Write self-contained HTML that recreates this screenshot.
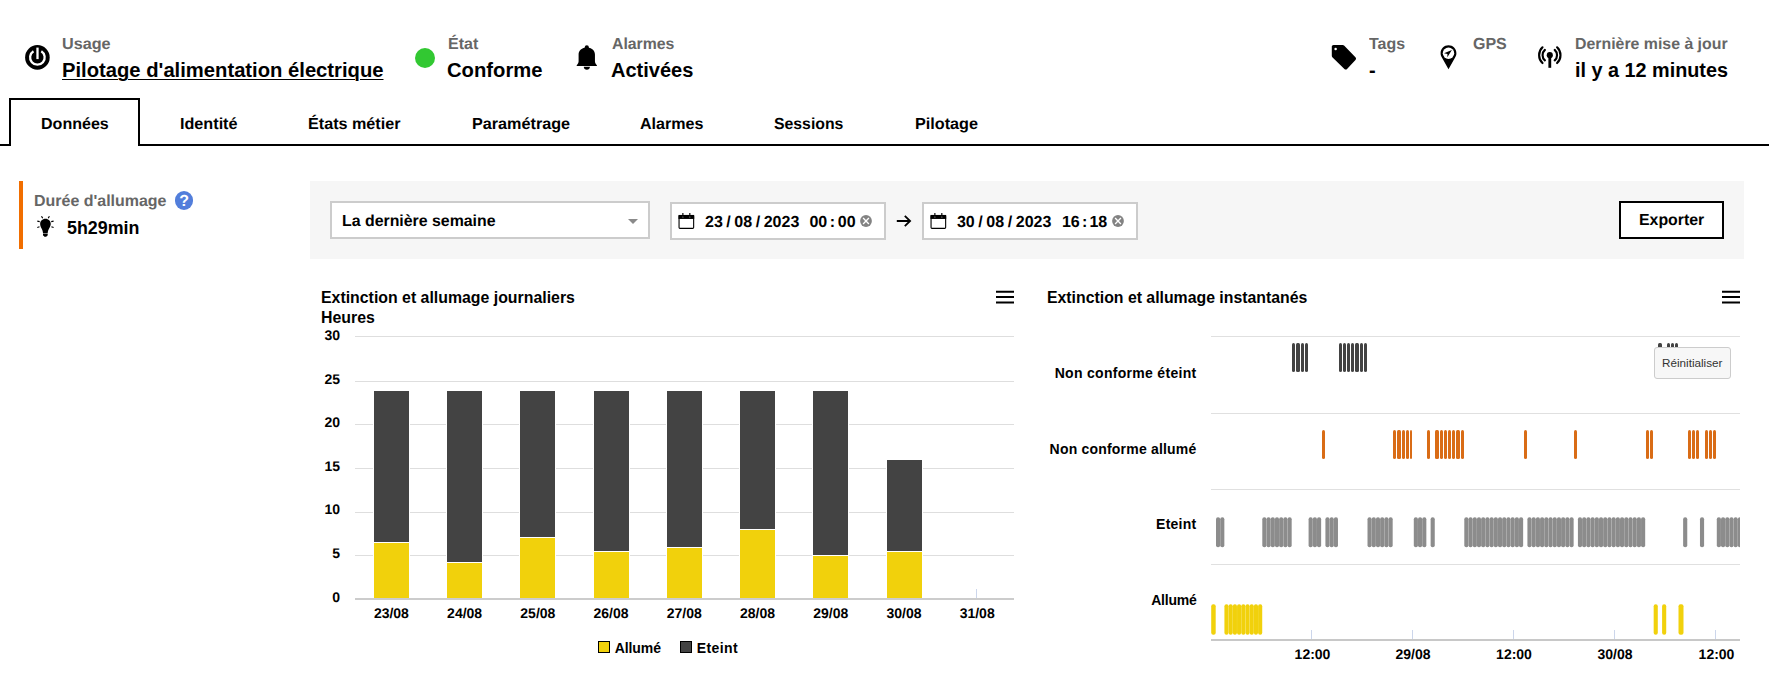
<!DOCTYPE html>
<html lang="fr"><head><meta charset="utf-8"><title>Pilotage d'alimentation électrique</title>
<style>
html,body{margin:0;padding:0;background:#fff}
body{width:1769px;height:688px;position:relative;overflow:hidden;font-family:"Liberation Sans",Arial,Helvetica,sans-serif;font-weight:700;color:#000}
.t{position:absolute;white-space:nowrap;font-weight:700}
</style></head><body>
<!-- header -->
<svg style="position:absolute;left:24px;top:44px" width="27" height="27" viewBox="0 0 27 27"><circle cx="13.400" cy="13.400" r="12.300" fill="#000"/><path d="M9.500 7.200A7.300 7.300 0 1 0 17.300 7.200" fill="none" stroke="#fff" stroke-width="2.300"/><line x1="13.500" y1="3.600" x2="13.500" y2="15.100" stroke="#fff" stroke-width="2.300"/></svg>
<div class="t" style="left:62.00px;top:36px;font-size:16px;line-height:17px;color:#666;text-rendering:geometricPrecision;transform:scaleX(1.0120);transform-origin:0 0;">Usage</div>
<div class="t" style="left:61.70px;top:59px;font-size:20px;line-height:22px;transform:scaleX(1.0105);transform-origin:0 0;text-decoration:underline;text-decoration-thickness:1.400px;text-underline-offset:2.400px;">Pilotage d'alimentation électrique</div>
<div style="position:absolute;left:414.900px;top:47.800px;width:20.200px;height:20.200px;border-radius:50%;background:#32c832"></div>
<div class="t" style="left:448.00px;top:36px;font-size:16px;line-height:17px;color:#666;text-rendering:geometricPrecision;">État</div>
<div class="t" style="left:447.20px;top:59px;font-size:20px;line-height:22px;transform:scaleX(1.0112);transform-origin:0 0;">Conforme</div>
<svg style="position:absolute;left:567px;top:38px" width="40" height="38" viewBox="0 0 40 38"><circle cx="19.800" cy="9.300" r="2.050" fill="#000"/><path d="M9.700 27.900V27.200C11 25.600 11.600 24.800 11.600 23.200V16.600C11.600 12.400 14.900 9.500 19.800 9.500S27.950 12.400 27.950 16.600V23.200C27.950 24.800 28.600 25.600 29.900 27.200V27.900Z" fill="#000"/><path d="M16.800 28.800H22.900C22.900 30.500 21.600 31.800 19.850 31.800S16.800 30.500 16.800 28.800Z" fill="#000"/></svg>
<div class="t" style="left:612.00px;top:36px;font-size:16px;line-height:17px;color:#666;text-rendering:geometricPrecision;transform:scaleX(0.9881);transform-origin:0 0;">Alarmes</div>
<div class="t" style="left:611.20px;top:59px;font-size:20px;line-height:22px;transform:scaleX(1.0015);transform-origin:0 0;">Activées</div>
<svg style="position:absolute;left:1330px;top:43px" width="28" height="28" viewBox="0 0 28 28"><path d="M1.800 3.600c0-.95.750-1.700 1.700-1.700h9.200c.5 0 1 .2 1.350.55l11.400 11.900c.75.750.75 1.900 0 2.650l-8.400 8.900c-.75.750-1.900.75-2.650 0L2.350 14.150c-.35-.35-.55-.85-.55-1.350z" fill="#000"/><circle cx="5.600" cy="6" r="1.250" fill="#fff"/></svg>
<div class="t" style="left:1369.00px;top:36px;font-size:16px;line-height:17px;color:#666;text-rendering:geometricPrecision;transform:scaleX(0.9957);transform-origin:0 0;">Tags</div>
<div class="t" style="left:1369.00px;top:59px;font-size:20px;line-height:22px;">-</div>
<svg style="position:absolute;left:1438px;top:43px" width="21" height="28" viewBox="0 0 21 28"><path d="M10.500 2.300c-4.400 0-7.900 3.500-7.900 7.900 0 1.700.5 3 1.300 4.400l6.600 11.700 6.600-11.700c.8-1.400 1.300-2.700 1.300-4.400 0-4.400-3.500-7.900-7.900-7.900z" fill="#000"/><circle cx="10.500" cy="10.200" r="5.700" fill="#fff"/><path d="M13.900 7L9.300 14.200 9.450 10.900 6 10.200Z" fill="#000"/></svg>
<div class="t" style="left:1473.00px;top:36px;font-size:16px;line-height:17px;color:#666;text-rendering:geometricPrecision;">GPS</div>
<svg style="position:absolute;left:1536px;top:44px" width="28" height="26" viewBox="0 0 28 26"><g fill="none" stroke="#000" stroke-width="2.150" stroke-linecap="round"><path d="M8.900 5.900A7.100 7.100 0 0 0 8.900 16.400"/><path d="M18.700 5.900A7.100 7.100 0 0 1 18.700 16.400"/><path d="M6.500 3.300A10.800 10.800 0 0 0 6.500 19"/><path d="M21.100 3.300A10.800 10.800 0 0 1 21.100 19"/></g><circle cx="13.800" cy="11.150" r="3.050" fill="#000"/><rect x="12.400" y="12" width="2.800" height="11.800" fill="#000"/></svg>
<div class="t" style="left:1575.30px;top:36px;font-size:16px;line-height:17px;color:#666;text-rendering:geometricPrecision;transform:scaleX(0.9919);transform-origin:0 0;">Dernière mise à jour</div>
<div class="t" style="left:1575.00px;top:59px;font-size:20px;line-height:22px;transform:scaleX(0.9902);transform-origin:0 0;">il y a 12 minutes</div>
<div style="position:absolute;left:0;top:143.700px;width:1769px;height:2px;background:#000"></div>
<div style="position:absolute;left:9px;top:98px;width:127px;height:45.700px;border:2px solid #000;border-bottom:0;background:#fff"></div>
<div class="t" style="left:41.00px;top:116px;font-size:16px;line-height:17px;text-rendering:geometricPrecision;transform:scaleX(1.0034);transform-origin:0 0;">Données</div>
<div class="t" style="left:179.60px;top:116px;font-size:16px;line-height:17px;text-rendering:geometricPrecision;transform:scaleX(1.0107);transform-origin:0 0;">Identité</div>
<div class="t" style="left:308.20px;top:116px;font-size:16px;line-height:17px;text-rendering:geometricPrecision;transform:scaleX(1.0099);transform-origin:0 0;">États métier</div>
<div class="t" style="left:471.60px;top:116px;font-size:16px;line-height:17px;text-rendering:geometricPrecision;transform:scaleX(1.0119);transform-origin:0 0;">Paramétrage</div>
<div class="t" style="left:640.20px;top:116px;font-size:16px;line-height:17px;text-rendering:geometricPrecision;transform:scaleX(1.0040);transform-origin:0 0;">Alarmes</div>
<div class="t" style="left:774.20px;top:116px;font-size:16px;line-height:17px;text-rendering:geometricPrecision;transform:scaleX(0.9878);transform-origin:0 0;">Sessions</div>
<div class="t" style="left:915.00px;top:116px;font-size:16px;line-height:17px;text-rendering:geometricPrecision;transform:scaleX(1.0123);transform-origin:0 0;">Pilotage</div>
<div style="position:absolute;left:19px;top:181px;width:4px;height:68px;background:#f16e00"></div>
<div class="t" style="left:33.60px;top:193px;font-size:16px;line-height:17px;color:#666;text-rendering:geometricPrecision;transform:scaleX(0.9982);transform-origin:0 0;">Durée d'allumage</div>
<div style="position:absolute;left:174.900px;top:191.400px;width:18.200px;height:18.200px;border-radius:50%;background:#527edb"></div>
<div class="t" style="left:179.31px;top:193px;font-size:16px;line-height:17px;color:#fff;text-rendering:geometricPrecision;">?</div>
<svg style="position:absolute;left:35px;top:214px" width="21" height="24" viewBox="0 0 21 24"><path d="M10.450 4.700C13.500 4.700 15.750 7 15.750 9.800C15.750 11.600 15.050 12.800 14.250 14.200C13.550 15.500 12.900 16.600 12.700 18.950H8C7.750 16.600 7.150 15.500 6.450 14.200C5.650 12.800 5.150 11.600 5.150 9.800C5.150 7 7.400 4.700 10.450 4.700Z" fill="#000"/><path d="M8 19.500H12.700V21C12.700 21.600 12.300 21.900 11.800 21.950L11.300 22.750H9.400L8.900 21.950C8.400 21.900 8 21.600 8 21Z" fill="#000"/><g stroke="#000" stroke-width="1.150"><path d="M6.500 2.200L7.700 4.300M14.400 2.200L13.200 4.300M2.300 7.100L4.700 7.600M18.600 7.100L16.200 7.600M2.300 13.500L4.500 12.750M18.600 13.500L16.400 12.750"/></g></svg>
<div class="t" style="left:67.30px;top:218px;font-size:18px;line-height:20px;transform:scaleX(0.9914);transform-origin:0 0;">5h29min</div>
<div style="position:absolute;left:310px;top:181px;width:1434px;height:77.800px;background:#f6f6f6"></div>
<div style="position:absolute;left:330px;top:201.3px;width:316px;height:33.39999999999998px;border:2px solid #ccc;background:#fff;"></div>
<div class="t" style="left:342.00px;top:213px;font-size:16px;line-height:17px;text-rendering:geometricPrecision;transform:scaleX(0.9920);transform-origin:0 0;">La dernière semaine</div>
<div style="position:absolute;left:627.800px;top:219px;width:0;height:0;border-left:5.300px solid transparent;border-right:5.300px solid transparent;border-top:5.500px solid #8a8a8a"></div>
<div style="position:absolute;left:670px;top:202.2px;width:212px;height:33.80000000000001px;border:2px solid #ccc;background:#fff;"></div>
<svg style="position:absolute;left:678.2px;top:212px" width="17" height="18" viewBox="0 0 17 18"><rect x="1.050" y="3.500" width="14.600" height="12.850" rx="0.900" fill="none" stroke="#000" stroke-width="1.100"/><rect x="0.500" y="2.950" width="15.700" height="4" fill="#000"/><rect x="4.300" y="1" width="1.150" height="3" fill="#000"/><rect x="11.250" y="1" width="1.150" height="3" fill="#000"/><circle cx="4.900" cy="5" r="0.600" fill="#aaa"/><circle cx="11.850" cy="5" r="0.600" fill="#aaa"/></svg>
<div class="t" style="left:705.00px;top:214px;font-size:16px;line-height:17px;word-spacing:-0.890px;text-rendering:geometricPrecision;white-space:pre;">23 / 08 / 2023</div>
<div class="t" style="left:809.40px;top:214px;font-size:16px;line-height:17px;word-spacing:-1.806px;text-rendering:geometricPrecision;white-space:pre;">00 : 00</div>
<svg style="position:absolute;left:860.1px;top:214.900px" width="12" height="12" viewBox="0 0 12 12"><circle cx="6" cy="6" r="5.900" fill="#838383"/><path d="M3.100 3.100l5.800 5.800M8.900 3.100l-5.800 5.800" stroke="#fff" stroke-width="1.350"/></svg>
<div style="position:absolute;left:922px;top:202.2px;width:212px;height:33.80000000000001px;border:2px solid #ccc;background:#fff;"></div>
<svg style="position:absolute;left:930.2px;top:212px" width="17" height="18" viewBox="0 0 17 18"><rect x="1.050" y="3.500" width="14.600" height="12.850" rx="0.900" fill="none" stroke="#000" stroke-width="1.100"/><rect x="0.500" y="2.950" width="15.700" height="4" fill="#000"/><rect x="4.300" y="1" width="1.150" height="3" fill="#000"/><rect x="11.250" y="1" width="1.150" height="3" fill="#000"/><circle cx="4.900" cy="5" r="0.600" fill="#aaa"/><circle cx="11.850" cy="5" r="0.600" fill="#aaa"/></svg>
<div class="t" style="left:956.90px;top:214px;font-size:16px;line-height:17px;word-spacing:-0.840px;text-rendering:geometricPrecision;white-space:pre;">30 / 08 / 2023</div>
<div class="t" style="left:1061.90px;top:214px;font-size:16px;line-height:17px;word-spacing:-2.256px;text-rendering:geometricPrecision;white-space:pre;">16 : 18</div>
<svg style="position:absolute;left:1112.1px;top:214.900px" width="12" height="12" viewBox="0 0 12 12"><circle cx="6" cy="6" r="5.900" fill="#838383"/><path d="M3.100 3.100l5.800 5.800M8.900 3.100l-5.800 5.800" stroke="#fff" stroke-width="1.350"/></svg>
<svg style="position:absolute;left:896px;top:213px" width="16" height="16" viewBox="0 0 16 16"><path d="M.8 8h13M8.800 2.800l5.300 5.200-5.300 5.200" fill="none" stroke="#000" stroke-width="1.800"/></svg>
<div style="position:absolute;left:1619px;top:200.6px;width:101px;height:34.400000000000006px;border:2px solid #000;background:#fff;"></div>
<div class="t" style="left:1639.30px;top:212px;font-size:16px;line-height:17px;text-rendering:geometricPrecision;transform:scaleX(0.9909);transform-origin:0 0;">Exporter</div>
<div class="t" style="left:320.80px;top:289px;font-size:16px;line-height:17px;transform:scaleX(0.9915);transform-origin:0 0;">Extinction et allumage journaliers</div>
<div class="t" style="left:320.90px;top:309px;font-size:16px;line-height:17px;transform:scaleX(0.9915);transform-origin:0 0;">Heures</div>
<svg style="position:absolute;left:996px;top:290px" width="20" height="14" viewBox="0 0 20 14"><path d="M0 1.800h18M0 7.100h18M0 12.400h18" stroke="#000" stroke-width="2"/></svg>
<svg style="position:absolute;left:0;top:0" width="1769" height="688" viewBox="0 0 1769 688" shape-rendering="crispEdges">
<rect x="355" y="336" width="659" height="1" fill="#dedede"/>
<rect x="355" y="381" width="659" height="1" fill="#dedede"/>
<rect x="355" y="424" width="659" height="1" fill="#dedede"/>
<rect x="355" y="468" width="659" height="1" fill="#dedede"/>
<rect x="355" y="512" width="659" height="1" fill="#dedede"/>
<rect x="355" y="555" width="659" height="1" fill="#dedede"/>
<rect x="355" y="598" width="659" height="2" fill="#ccc"/>
<rect x="976" y="589" width="1" height="9" fill="#ccd6eb"/>
<rect x="373" y="390" width="37" height="208" fill="#fff"/>
<rect x="374" y="391" width="35" height="151" fill="#434343"/>
<rect x="374" y="543" width="35" height="55" fill="#f1d10c"/>
<rect x="446" y="390" width="37" height="208" fill="#fff"/>
<rect x="447" y="391" width="35" height="171" fill="#434343"/>
<rect x="447" y="563" width="35" height="35" fill="#f1d10c"/>
<rect x="519" y="390" width="37" height="208" fill="#fff"/>
<rect x="520" y="391" width="35" height="146" fill="#434343"/>
<rect x="520" y="538" width="35" height="60" fill="#f1d10c"/>
<rect x="593" y="390" width="37" height="208" fill="#fff"/>
<rect x="594" y="391" width="35" height="160" fill="#434343"/>
<rect x="594" y="552" width="35" height="46" fill="#f1d10c"/>
<rect x="666" y="390" width="37" height="208" fill="#fff"/>
<rect x="667" y="391" width="35" height="156" fill="#434343"/>
<rect x="667" y="548" width="35" height="50" fill="#f1d10c"/>
<rect x="739" y="390" width="37" height="208" fill="#fff"/>
<rect x="740" y="391" width="35" height="138" fill="#434343"/>
<rect x="740" y="530" width="35" height="68" fill="#f1d10c"/>
<rect x="812" y="390" width="37" height="208" fill="#fff"/>
<rect x="813" y="391" width="35" height="164" fill="#434343"/>
<rect x="813" y="556" width="35" height="42" fill="#f1d10c"/>
<rect x="886" y="459" width="37" height="139" fill="#fff"/>
<rect x="887" y="460" width="35" height="91" fill="#434343"/>
<rect x="887" y="552" width="35" height="46" fill="#f1d10c"/>
</svg>
<div class="t" style="left:324.43px;top:327px;font-size:14px;line-height:16px;text-rendering:geometricPrecision;">30</div>
<div class="t" style="left:324.43px;top:371px;font-size:14px;line-height:16px;text-rendering:geometricPrecision;">25</div>
<div class="t" style="left:324.43px;top:414px;font-size:14px;line-height:16px;text-rendering:geometricPrecision;">20</div>
<div class="t" style="left:324.43px;top:458px;font-size:14px;line-height:16px;text-rendering:geometricPrecision;">15</div>
<div class="t" style="left:324.43px;top:501px;font-size:14px;line-height:16px;text-rendering:geometricPrecision;">10</div>
<div class="t" style="left:332.21px;top:545px;font-size:14px;line-height:16px;text-rendering:geometricPrecision;">5</div>
<div class="t" style="left:332.21px;top:589px;font-size:14px;line-height:16px;text-rendering:geometricPrecision;">0</div>
<div class="t" style="left:373.89px;top:605px;font-size:14px;line-height:16px;text-rendering:geometricPrecision;">23/08</div>
<div class="t" style="left:447.12px;top:605px;font-size:14px;line-height:16px;text-rendering:geometricPrecision;">24/08</div>
<div class="t" style="left:520.34px;top:605px;font-size:14px;line-height:16px;text-rendering:geometricPrecision;">25/08</div>
<div class="t" style="left:593.56px;top:605px;font-size:14px;line-height:16px;text-rendering:geometricPrecision;">26/08</div>
<div class="t" style="left:666.78px;top:605px;font-size:14px;line-height:16px;text-rendering:geometricPrecision;">27/08</div>
<div class="t" style="left:740.01px;top:605px;font-size:14px;line-height:16px;text-rendering:geometricPrecision;">28/08</div>
<div class="t" style="left:813.23px;top:605px;font-size:14px;line-height:16px;text-rendering:geometricPrecision;">29/08</div>
<div class="t" style="left:886.45px;top:605px;font-size:14px;line-height:16px;text-rendering:geometricPrecision;">30/08</div>
<div class="t" style="left:959.67px;top:605px;font-size:14px;line-height:16px;text-rendering:geometricPrecision;">31/08</div>
<div style="position:absolute;left:598px;top:641px;width:10px;height:10px;background:#f1d10c;border:1px solid #000"></div>
<div class="t" style="left:614.70px;top:640px;font-size:14px;line-height:16px;letter-spacing:-0.075px;">Allumé</div>
<div style="position:absolute;left:680px;top:641px;width:10px;height:10px;background:#434343;border:1px solid #000"></div>
<div class="t" style="left:696.70px;top:640px;font-size:14px;line-height:16px;letter-spacing:0.422px;">Eteint</div>
<div class="t" style="left:1046.50px;top:289px;font-size:16px;line-height:17px;transform:scaleX(0.9890);transform-origin:0 0;">Extinction et allumage instantanés</div>
<svg style="position:absolute;left:1722px;top:290px" width="20" height="14" viewBox="0 0 20 14"><path d="M0 1.800h18M0 7.100h18M0 12.400h18" stroke="#000" stroke-width="2"/></svg>
<svg style="position:absolute;left:0;top:0" width="1769" height="688" viewBox="0 0 1769 688">
<defs><clipPath id="cp"><rect x="1211" y="330" width="529" height="312"/></clipPath></defs>
<rect x="1211" y="336" width="529" height="1" fill="#e0e0e0" shape-rendering="crispEdges"/>
<rect x="1211" y="413" width="529" height="1" fill="#e0e0e0" shape-rendering="crispEdges"/>
<rect x="1211" y="489" width="529" height="1" fill="#e0e0e0" shape-rendering="crispEdges"/>
<rect x="1211" y="564" width="529" height="1" fill="#e0e0e0" shape-rendering="crispEdges"/>
<rect x="1211" y="639" width="529" height="2" fill="#c8c8c8" shape-rendering="crispEdges"/>
<rect x="1311" y="630" width="1" height="9" fill="#ccd6eb" shape-rendering="crispEdges"/>
<rect x="1412" y="630" width="1" height="9" fill="#ccd6eb" shape-rendering="crispEdges"/>
<rect x="1513" y="630" width="1" height="9" fill="#ccd6eb" shape-rendering="crispEdges"/>
<rect x="1614" y="630" width="1" height="9" fill="#ccd6eb" shape-rendering="crispEdges"/>
<rect x="1715" y="630" width="1" height="9" fill="#ccd6eb" shape-rendering="crispEdges"/>
<g clip-path="url(#cp)" shape-rendering="geometricPrecision">
<g fill="#434343">
<rect x="1292" y="343" width="3" height="29" rx="1.500"/>
<rect x="1296" y="343" width="4" height="29" rx="1.500"/>
<rect x="1301" y="343" width="3" height="29" rx="1.500"/>
<rect x="1305" y="343" width="3" height="29" rx="1.500"/>
<rect x="1339" y="343" width="3" height="29" rx="1.500"/>
<rect x="1343" y="343" width="3" height="29" rx="1.500"/>
<rect x="1347" y="343" width="3" height="29" rx="1.500"/>
<rect x="1351" y="343" width="3" height="29" rx="1.500"/>
<rect x="1355" y="343" width="4" height="29" rx="1.500"/>
<rect x="1360" y="343" width="3" height="29" rx="1.500"/>
<rect x="1364" y="343" width="3" height="29" rx="1.500"/>
<rect x="1658" y="343" width="4" height="29" rx="1.500"/>
<rect x="1667" y="343" width="3" height="29" rx="1.500"/>
<rect x="1671" y="343" width="3" height="29" rx="1.500"/>
<rect x="1675" y="343" width="3" height="29" rx="1.500"/>
</g>
<g fill="#d96c16">
<rect x="1322" y="430" width="3" height="29" rx="1.500"/>
<rect x="1393" y="430" width="3" height="29" rx="1.500"/>
<rect x="1397" y="430" width="4" height="29" rx="1.500"/>
<rect x="1402" y="430" width="3" height="29" rx="1.500"/>
<rect x="1406" y="430" width="3" height="29" rx="1.500"/>
<rect x="1410" y="430" width="2" height="29" rx="1.500"/>
<rect x="1427" y="430" width="3" height="29" rx="1.500"/>
<rect x="1435" y="430" width="4" height="29" rx="1.500"/>
<rect x="1440" y="430" width="3" height="29" rx="1.500"/>
<rect x="1444" y="430" width="3" height="29" rx="1.500"/>
<rect x="1448" y="430" width="3" height="29" rx="1.500"/>
<rect x="1452" y="430" width="3" height="29" rx="1.500"/>
<rect x="1456" y="430" width="4" height="29" rx="1.500"/>
<rect x="1461" y="430" width="3" height="29" rx="1.500"/>
<rect x="1524" y="430" width="3" height="29" rx="1.500"/>
<rect x="1574" y="430" width="3" height="29" rx="1.500"/>
<rect x="1646" y="430" width="3" height="29" rx="1.500"/>
<rect x="1650" y="430" width="3" height="29" rx="1.500"/>
<rect x="1688" y="430" width="3" height="29" rx="1.500"/>
<rect x="1692" y="430" width="3" height="29" rx="1.500"/>
<rect x="1696" y="430" width="3" height="29" rx="1.500"/>
<rect x="1705" y="430" width="3" height="29" rx="1.500"/>
<rect x="1709" y="430" width="3" height="29" rx="1.500"/>
<rect x="1713" y="430" width="3" height="29" rx="1.500"/>
</g>
<g fill="#8c8c8c">
<rect x="1216.01" y="517.3" width="4.13" height="30.00" rx="2"/>
<rect x="1220.22" y="517.3" width="4.13" height="30.00" rx="2"/>
<rect x="1262.30" y="517.3" width="4.13" height="30.00" rx="2"/>
<rect x="1266.51" y="517.3" width="4.13" height="30.00" rx="2"/>
<rect x="1270.72" y="517.3" width="4.13" height="30.00" rx="2"/>
<rect x="1274.92" y="517.3" width="4.13" height="30.00" rx="2"/>
<rect x="1279.13" y="517.3" width="4.13" height="30.00" rx="2"/>
<rect x="1283.34" y="517.3" width="4.13" height="30.00" rx="2"/>
<rect x="1287.55" y="517.3" width="4.13" height="30.00" rx="2"/>
<rect x="1308.59" y="517.3" width="4.13" height="30.00" rx="2"/>
<rect x="1312.80" y="517.3" width="4.13" height="30.00" rx="2"/>
<rect x="1317.01" y="517.3" width="4.13" height="30.00" rx="2"/>
<rect x="1325.42" y="517.3" width="4.13" height="30.00" rx="2"/>
<rect x="1329.63" y="517.3" width="4.13" height="30.00" rx="2"/>
<rect x="1333.84" y="517.3" width="4.13" height="30.00" rx="2"/>
<rect x="1367.51" y="517.3" width="4.13" height="30.00" rx="2"/>
<rect x="1371.72" y="517.3" width="4.13" height="30.00" rx="2"/>
<rect x="1375.92" y="517.3" width="4.13" height="30.00" rx="2"/>
<rect x="1380.13" y="517.3" width="4.13" height="30.00" rx="2"/>
<rect x="1384.34" y="517.3" width="4.13" height="30.00" rx="2"/>
<rect x="1388.55" y="517.3" width="4.13" height="30.00" rx="2"/>
<rect x="1413.80" y="517.3" width="4.13" height="30.00" rx="2"/>
<rect x="1418.01" y="517.3" width="4.13" height="30.00" rx="2"/>
<rect x="1422.22" y="517.3" width="4.13" height="30.00" rx="2"/>
<rect x="1430.63" y="517.3" width="4.13" height="30.00" rx="2"/>
<rect x="1464.30" y="517.3" width="4.13" height="30.00" rx="2"/>
<rect x="1468.51" y="517.3" width="4.13" height="30.00" rx="2"/>
<rect x="1472.72" y="517.3" width="4.13" height="30.00" rx="2"/>
<rect x="1476.92" y="517.3" width="4.13" height="30.00" rx="2"/>
<rect x="1481.13" y="517.3" width="4.13" height="30.00" rx="2"/>
<rect x="1485.34" y="517.3" width="4.13" height="30.00" rx="2"/>
<rect x="1489.55" y="517.3" width="4.13" height="30.00" rx="2"/>
<rect x="1493.76" y="517.3" width="4.13" height="30.00" rx="2"/>
<rect x="1497.97" y="517.3" width="4.13" height="30.00" rx="2"/>
<rect x="1502.17" y="517.3" width="4.13" height="30.00" rx="2"/>
<rect x="1506.38" y="517.3" width="4.13" height="30.00" rx="2"/>
<rect x="1510.59" y="517.3" width="4.13" height="30.00" rx="2"/>
<rect x="1514.80" y="517.3" width="4.13" height="30.00" rx="2"/>
<rect x="1519.01" y="517.3" width="4.13" height="30.00" rx="2"/>
<rect x="1527.42" y="517.3" width="4.13" height="30.00" rx="2"/>
<rect x="1531.63" y="517.3" width="4.13" height="30.00" rx="2"/>
<rect x="1535.84" y="517.3" width="4.13" height="30.00" rx="2"/>
<rect x="1540.05" y="517.3" width="4.13" height="30.00" rx="2"/>
<rect x="1544.26" y="517.3" width="4.13" height="30.00" rx="2"/>
<rect x="1548.47" y="517.3" width="4.13" height="30.00" rx="2"/>
<rect x="1552.67" y="517.3" width="4.13" height="30.00" rx="2"/>
<rect x="1556.88" y="517.3" width="4.13" height="30.00" rx="2"/>
<rect x="1561.09" y="517.3" width="4.13" height="30.00" rx="2"/>
<rect x="1565.30" y="517.3" width="4.13" height="30.00" rx="2"/>
<rect x="1569.51" y="517.3" width="4.13" height="30.00" rx="2"/>
<rect x="1577.92" y="517.3" width="4.13" height="30.00" rx="2"/>
<rect x="1582.13" y="517.3" width="4.13" height="30.00" rx="2"/>
<rect x="1586.34" y="517.3" width="4.13" height="30.00" rx="2"/>
<rect x="1590.55" y="517.3" width="4.13" height="30.00" rx="2"/>
<rect x="1594.76" y="517.3" width="4.13" height="30.00" rx="2"/>
<rect x="1598.97" y="517.3" width="4.13" height="30.00" rx="2"/>
<rect x="1603.17" y="517.3" width="4.13" height="30.00" rx="2"/>
<rect x="1607.38" y="517.3" width="4.13" height="30.00" rx="2"/>
<rect x="1611.59" y="517.3" width="4.13" height="30.00" rx="2"/>
<rect x="1615.80" y="517.3" width="4.13" height="30.00" rx="2"/>
<rect x="1620.01" y="517.3" width="4.13" height="30.00" rx="2"/>
<rect x="1624.22" y="517.3" width="4.13" height="30.00" rx="2"/>
<rect x="1628.42" y="517.3" width="4.13" height="30.00" rx="2"/>
<rect x="1632.63" y="517.3" width="4.13" height="30.00" rx="2"/>
<rect x="1636.84" y="517.3" width="4.13" height="30.00" rx="2"/>
<rect x="1641.05" y="517.3" width="4.13" height="30.00" rx="2"/>
<rect x="1683.13" y="517.3" width="4.13" height="30.00" rx="2"/>
<rect x="1699.97" y="517.3" width="4.13" height="30.00" rx="2"/>
<rect x="1716.80" y="517.3" width="4.13" height="30.00" rx="2"/>
<rect x="1721.01" y="517.3" width="4.13" height="30.00" rx="2"/>
<rect x="1725.22" y="517.3" width="4.13" height="30.00" rx="2"/>
<rect x="1729.42" y="517.3" width="4.13" height="30.00" rx="2"/>
<rect x="1733.63" y="517.3" width="4.13" height="30.00" rx="2"/>
<rect x="1737.84" y="517.3" width="4.13" height="30.00" rx="2"/>
</g>
<g fill="#f1d10c">
<rect x="1211.20" y="604.3" width="4.50" height="30.50" rx="2"/>
<rect x="1224.42" y="604.3" width="4.13" height="30.50" rx="2"/>
<rect x="1228.63" y="604.3" width="4.13" height="30.50" rx="2"/>
<rect x="1232.84" y="604.3" width="4.13" height="30.50" rx="2"/>
<rect x="1237.05" y="604.3" width="4.13" height="30.50" rx="2"/>
<rect x="1241.26" y="604.3" width="4.13" height="30.50" rx="2"/>
<rect x="1245.47" y="604.3" width="4.13" height="30.50" rx="2"/>
<rect x="1249.67" y="604.3" width="4.13" height="30.50" rx="2"/>
<rect x="1253.88" y="604.3" width="4.13" height="30.50" rx="2"/>
<rect x="1258.09" y="604.3" width="4.13" height="30.50" rx="2"/>
<rect x="1653.67" y="604.3" width="4.13" height="30.50" rx="2"/>
<rect x="1662.09" y="604.3" width="4.13" height="30.50" rx="2"/>
<rect x="1678.50" y="604.3" width="5.00" height="30.50" rx="2"/>
</g>
</g></svg>
<div class="t" style="left:1054.70px;top:365px;font-size:14px;line-height:16px;letter-spacing:0.299px;">Non conforme éteint</div>
<div class="t" style="left:1049.60px;top:441px;font-size:14px;line-height:16px;letter-spacing:0.198px;">Non conforme allumé</div>
<div class="t" style="left:1156.04px;top:516px;font-size:14px;line-height:16px;letter-spacing:0.262px;">Eteint</div>
<div class="t" style="left:1151.24px;top:592px;font-size:14px;line-height:16px;letter-spacing:-0.235px;">Allumé</div>
<div class="t" style="left:1294.60px;top:646px;font-size:14px;line-height:16px;text-rendering:geometricPrecision;">12:00</div>
<div class="t" style="left:1395.48px;top:646px;font-size:14px;line-height:16px;text-rendering:geometricPrecision;">29/08</div>
<div class="t" style="left:1496.10px;top:646px;font-size:14px;line-height:16px;text-rendering:geometricPrecision;">12:00</div>
<div class="t" style="left:1597.48px;top:646px;font-size:14px;line-height:16px;text-rendering:geometricPrecision;">30/08</div>
<div class="t" style="left:1698.60px;top:646px;font-size:14px;line-height:16px;text-rendering:geometricPrecision;">12:00</div>
<div style="position:absolute;left:1654.400px;top:347.200px;width:74.300px;height:29.400px;border:1px solid #ccc;border-radius:3px;background:#f7f7f7"></div>
<div class="t" style="left:1662.00px;top:356px;font-size:11.7px;line-height:13px;color:#333;font-weight:400;">Réinitialiser</div>
</body></html>
